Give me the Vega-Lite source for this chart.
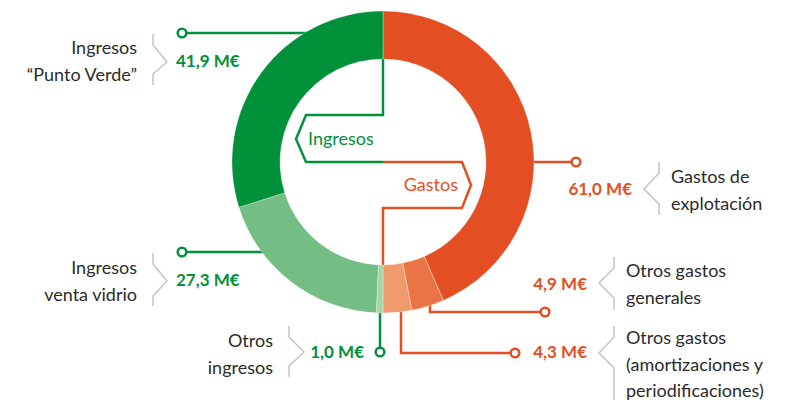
{
  "$schema": "https://vega.github.io/schema/vega-lite/v6.json",
  "width": 766,
  "height": 324,
  "autosize": {"type": "none"},
  "padding": {"left": 0, "top": 0, "right": 19, "bottom": 76},
  "background": "white",
  "config": {"view": {"stroke": null}, "font": "Lato"},
  "datasets": {
    "slices": [
      {"concepto": "Gastos de explotación", "valor": 61.0, "orden": 1},
      {"concepto": "Otros gastos generales", "valor": 4.9, "orden": 2},
      {"concepto": "Otros gastos (amortizaciones y periodificaciones)", "valor": 4.3, "orden": 3},
      {"concepto": "Otros ingresos", "valor": 1.0, "orden": 4},
      {"concepto": "Ingresos venta vidrio", "valor": 27.3, "orden": 5},
      {"concepto": "Ingresos Punto Verde", "valor": 41.9, "orden": 6}
    ],
    "paths": [
      {"trazo": "pv", "tipo": "ingresos", "paso": 0, "x": -201, "y": -129},
      {"trazo": "pv", "tipo": "ingresos", "paso": 1, "x": -70, "y": -129},
      {"trazo": "vv", "tipo": "ingresos", "paso": 0, "x": -201, "y": 90},
      {"trazo": "vv", "tipo": "ingresos", "paso": 1, "x": -110, "y": 90},
      {"trazo": "oi", "tipo": "ingresos", "paso": 0, "x": -3, "y": 140},
      {"trazo": "oi", "tipo": "ingresos", "paso": 1, "x": -3, "y": 190},
      {"trazo": "ci", "tipo": "ingresos", "paso": 0, "x": 0, "y": -115},
      {"trazo": "ci", "tipo": "ingresos", "paso": 1, "x": 0, "y": -47},
      {"trazo": "ci", "tipo": "ingresos", "paso": 2, "x": -77, "y": -47},
      {"trazo": "ci", "tipo": "ingresos", "paso": 3, "x": -87, "y": -23},
      {"trazo": "ci", "tipo": "ingresos", "paso": 4, "x": -77, "y": 0},
      {"trazo": "ci", "tipo": "ingresos", "paso": 5, "x": 0, "y": 0},
      {"trazo": "ge", "tipo": "gastos", "paso": 0, "x": 140, "y": 0},
      {"trazo": "ge", "tipo": "gastos", "paso": 1, "x": 193, "y": 0},
      {"trazo": "og", "tipo": "gastos", "paso": 0, "x": 47, "y": 136},
      {"trazo": "og", "tipo": "gastos", "paso": 1, "x": 47, "y": 150},
      {"trazo": "og", "tipo": "gastos", "paso": 2, "x": 162, "y": 150},
      {"trazo": "oa", "tipo": "gastos", "paso": 0, "x": 18, "y": 140},
      {"trazo": "oa", "tipo": "gastos", "paso": 1, "x": 18, "y": 191},
      {"trazo": "oa", "tipo": "gastos", "paso": 2, "x": 132, "y": 191},
      {"trazo": "cg", "tipo": "gastos", "paso": 0, "x": 0, "y": 0},
      {"trazo": "cg", "tipo": "gastos", "paso": 1, "x": 79, "y": 0},
      {"trazo": "cg", "tipo": "gastos", "paso": 2, "x": 88, "y": 23},
      {"trazo": "cg", "tipo": "gastos", "paso": 3, "x": 79, "y": 46},
      {"trazo": "cg", "tipo": "gastos", "paso": 4, "x": 0, "y": 46},
      {"trazo": "cg", "tipo": "gastos", "paso": 5, "x": 0, "y": 115}
    ],
    "brackets": [
      {"trazo": "pv", "paso": 0, "x": -230, "y": -128},
      {"trazo": "pv", "paso": 1, "x": -230, "y": -117},
      {"trazo": "pv", "paso": 2, "x": -216, "y": -100},
      {"trazo": "pv", "paso": 3, "x": -230, "y": -88},
      {"trazo": "pv", "paso": 4, "x": -230, "y": -77},
      {"trazo": "vv", "paso": 0, "x": -230, "y": 91},
      {"trazo": "vv", "paso": 1, "x": -230, "y": 102},
      {"trazo": "vv", "paso": 2, "x": -216, "y": 119},
      {"trazo": "vv", "paso": 3, "x": -230, "y": 134},
      {"trazo": "vv", "paso": 4, "x": -230, "y": 144},
      {"trazo": "oi", "paso": 0, "x": -94, "y": 164},
      {"trazo": "oi", "paso": 1, "x": -94, "y": 175},
      {"trazo": "oi", "paso": 2, "x": -79, "y": 190},
      {"trazo": "oi", "paso": 3, "x": -94, "y": 204},
      {"trazo": "oi", "paso": 4, "x": -94, "y": 215},
      {"trazo": "ge", "paso": 0, "x": 276, "y": 0},
      {"trazo": "ge", "paso": 1, "x": 276, "y": 11},
      {"trazo": "ge", "paso": 2, "x": 261, "y": 27},
      {"trazo": "ge", "paso": 3, "x": 276, "y": 42},
      {"trazo": "ge", "paso": 4, "x": 276, "y": 53},
      {"trazo": "og", "paso": 0, "x": 231, "y": 95},
      {"trazo": "og", "paso": 1, "x": 231, "y": 106},
      {"trazo": "og", "paso": 2, "x": 216, "y": 121},
      {"trazo": "og", "paso": 3, "x": 231, "y": 136},
      {"trazo": "og", "paso": 4, "x": 231, "y": 148},
      {"trazo": "oa", "paso": 0, "x": 231, "y": 164},
      {"trazo": "oa", "paso": 1, "x": 231, "y": 175},
      {"trazo": "oa", "paso": 2, "x": 216, "y": 191},
      {"trazo": "oa", "paso": 3, "x": 231, "y": 206},
      {"trazo": "oa", "paso": 4, "x": 231, "y": 238}
    ],
    "dots": [
      {"tipo": "ingresos", "x": -201, "y": -129},
      {"tipo": "ingresos", "x": -201, "y": 90},
      {"tipo": "ingresos", "x": -3, "y": 190},
      {"tipo": "gastos", "x": 193, "y": 0},
      {"tipo": "gastos", "x": 162, "y": 150},
      {"tipo": "gastos", "x": 132, "y": 191}
    ],
    "values": [
      {"tipo": "ingresos", "lado": "inicio", "texto": "41,9 M€", "x": -207, "y": -100},
      {"tipo": "ingresos", "lado": "inicio", "texto": "27,3 M€", "x": -207, "y": 119},
      {"tipo": "ingresos", "lado": "fin", "texto": "1,0 M€", "x": -19, "y": 191},
      {"tipo": "gastos", "lado": "fin", "texto": "61,0 M€", "x": 249, "y": 28},
      {"tipo": "gastos", "lado": "fin", "texto": "4,9 M€", "x": 204, "y": 123},
      {"tipo": "gastos", "lado": "fin", "texto": "4,3 M€", "x": 204, "y": 191}
    ],
    "labels": [
      {"lado": "fin", "lineas": ["Ingresos", "“Punto Verde”"], "x": -246, "y": -108},
      {"lado": "fin", "lineas": ["Ingresos", "venta vidrio"], "x": -246, "y": 112},
      {"lado": "fin", "lineas": ["Otros", "ingresos"], "x": -110, "y": 185},
      {"lado": "inicio", "lineas": ["Gastos de", "explotación"], "x": 288, "y": 21},
      {"lado": "inicio", "lineas": ["Otros gastos", "generales"], "x": 243, "y": 115},
      {"lado": "inicio", "lineas": ["Otros gastos", "(amortizaciones y", "periodificaciones)"], "x": 243, "y": 182}
    ],
    "center": [
      {"tipo": "ingresos", "texto": "Ingresos", "x": -75, "y": -22},
      {"tipo": "gastos", "texto": "Gastos", "x": 75, "y": 24}
    ]
  },
  "encoding": {
    "x": {"field": "x", "type": "quantitative", "scale": {"domain": [-383, 383], "nice": false, "zero": false}, "axis": null},
    "y": {"field": "y", "type": "quantitative", "scale": {"domain": [-162, 162], "nice": false, "zero": false, "reverse": true}, "axis": null}
  },
  "layer": [
    {
      "data": {"name": "paths"},
      "transform": [{"filter": "datum.tipo === 'ingresos'"}],
      "mark": {"type": "line", "color": "#00913A", "strokeWidth": 2.5, "strokeJoin": "miter"},
      "encoding": {"detail": {"field": "trazo", "type": "nominal"}, "order": {"field": "paso", "type": "quantitative"}}
    },
    {
      "data": {"name": "paths"},
      "transform": [{"filter": "datum.tipo === 'gastos'"}],
      "mark": {"type": "line", "color": "#E34F22", "strokeWidth": 2.5, "strokeJoin": "miter"},
      "encoding": {"detail": {"field": "trazo", "type": "nominal"}, "order": {"field": "paso", "type": "quantitative"}}
    },
    {
      "data": {"name": "slices"},
      "mark": {"type": "arc", "innerRadius": 103, "outerRadius": 151, "stroke": "white", "strokeWidth": 0.5, "strokeOpacity": 0.6},
      "encoding": {
        "x": null,
        "y": null,
        "theta": {"field": "valor", "type": "quantitative", "stack": true},
        "order": {"field": "orden", "type": "quantitative"},
        "color": {
          "field": "concepto",
          "type": "nominal",
          "legend": null,
          "scale": {
            "domain": ["Gastos de explotación", "Otros gastos generales", "Otros gastos (amortizaciones y periodificaciones)", "Otros ingresos", "Ingresos venta vidrio", "Ingresos Punto Verde"],
            "range": ["#E34F22", "#EA7446", "#F09A6E", "#A8D5A8", "#74BD84", "#00913A"]
          }
        }
      }
    },
    {
      "data": {"name": "brackets"},
      "mark": {"type": "line", "color": "#C4C4C4", "strokeWidth": 1.5, "strokeJoin": "miter"},
      "encoding": {"detail": {"field": "trazo", "type": "nominal"}, "order": {"field": "paso", "type": "quantitative"}}
    },
    {
      "data": {"name": "dots"},
      "transform": [{"filter": "datum.tipo === 'ingresos'"}],
      "mark": {"type": "point", "shape": "circle", "filled": true, "fill": "white", "stroke": "#00913A", "strokeWidth": 2.5, "size": 75, "opacity": 1}
    },
    {
      "data": {"name": "dots"},
      "transform": [{"filter": "datum.tipo === 'gastos'"}],
      "mark": {"type": "point", "shape": "circle", "filled": true, "fill": "white", "stroke": "#E34F22", "strokeWidth": 2.5, "size": 75, "opacity": 1}
    },
    {
      "data": {"name": "values"},
      "transform": [{"filter": "datum.tipo === 'ingresos' && datum.lado === 'inicio'"}],
      "mark": {"type": "text", "align": "left", "baseline": "middle", "fontSize": 17, "fontWeight": "bold", "color": "#00913A"},
      "encoding": {"text": {"field": "texto", "type": "nominal"}}
    },
    {
      "data": {"name": "values"},
      "transform": [{"filter": "datum.tipo === 'ingresos' && datum.lado === 'fin'"}],
      "mark": {"type": "text", "align": "right", "baseline": "middle", "fontSize": 17, "fontWeight": "bold", "color": "#00913A"},
      "encoding": {"text": {"field": "texto", "type": "nominal"}}
    },
    {
      "data": {"name": "values"},
      "transform": [{"filter": "datum.tipo === 'gastos'"}],
      "mark": {"type": "text", "align": "right", "baseline": "middle", "fontSize": 17, "fontWeight": "bold", "color": "#E34F22"},
      "encoding": {"text": {"field": "texto", "type": "nominal"}}
    },
    {
      "data": {"name": "labels"},
      "transform": [{"filter": "datum.lado === 'fin'"}],
      "mark": {"type": "text", "align": "right", "baseline": "alphabetic", "fontSize": 18, "lineHeight": 26.5, "color": "#2B2B2B"},
      "encoding": {"text": {"field": "lineas", "type": "nominal"}}
    },
    {
      "data": {"name": "labels"},
      "transform": [{"filter": "datum.lado === 'inicio'"}],
      "mark": {"type": "text", "align": "left", "baseline": "alphabetic", "fontSize": 18, "lineHeight": 26.5, "color": "#2B2B2B"},
      "encoding": {"text": {"field": "lineas", "type": "nominal"}}
    },
    {
      "data": {"name": "center"},
      "transform": [{"filter": "datum.tipo === 'ingresos'"}],
      "mark": {"type": "text", "align": "left", "baseline": "middle", "fontSize": 18, "color": "#00913A"},
      "encoding": {"text": {"field": "texto", "type": "nominal"}}
    },
    {
      "data": {"name": "center"},
      "transform": [{"filter": "datum.tipo === 'gastos'"}],
      "mark": {"type": "text", "align": "right", "baseline": "middle", "fontSize": 18, "color": "#E34F22"},
      "encoding": {"text": {"field": "texto", "type": "nominal"}}
    }
  ]
}
